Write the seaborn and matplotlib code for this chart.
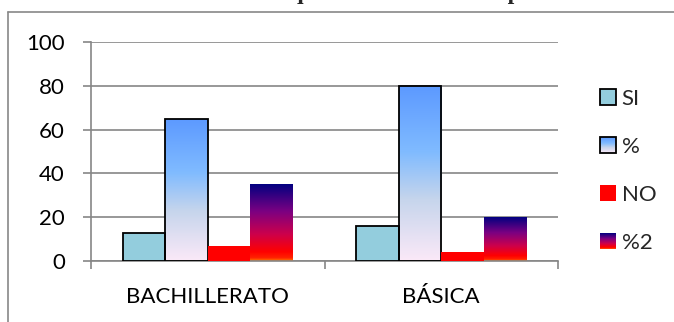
import numpy as np
import pandas as pd
import matplotlib
matplotlib.use("Agg")
import matplotlib.pyplot as plt
import seaborn as sns
from matplotlib.colors import LinearSegmentedColormap
from matplotlib.lines import Line2D
from matplotlib.patches import Rectangle
from matplotlib.image import BboxImage
from matplotlib.transforms import Bbox, TransformedBbox
from matplotlib.legend_handler import HandlerBase

categories = ["BACHILLERATO", "BÁSICA"]
series = ["SI", "%", "NO", "%2"]
si_values = [13, 16]
pct_values = [65, 80]
no_values = [7, 4]
pct2_values = [35, 20]
yticks = [0, 20, 40, 60, 80, 100]
title = "Gráfico No. 5: Son las clases que usted recibe se capacita en docencia"

df = pd.DataFrame({
    "categoria": categories * 4,
    "serie": [s for s in series for _ in categories],
    "valor": si_values + pct_values + no_values + pct2_values,
})

# office style gradients (bottom -> top)
cmap_pct = LinearSegmentedColormap.from_list("daybreak", [
    (0.0, "#fbe9f8"), (0.35, "#c6d5ec"), (0.62, "#80bbff"), (1.0, "#5c99ff")])
cmap_pct2 = LinearSegmentedColormap.from_list("nightfall", [
    (0.0, "#ff7a00"), (0.04, "#ff2200"), (0.12, "#ff0000"), (0.35, "#cc004c"),
    (0.65, "#7a0082"), (1.0, "#020080")])
grad = np.linspace(0, 1, 256).reshape(-1, 1)

palette = {"SI": "#93cddd", "%": "#80bbff", "NO": "#ff0000", "%2": "#800080"}
edges = {"SI": "black", "%": "black", "NO": "none", "%2": "none"}
grads = {"%": cmap_pct, "%2": cmap_pct2}

sns.set_style("white")
plt.rcParams["font.family"] = ["Lato", "DejaVu Sans"]

fig = plt.figure(figsize=(6.74, 3.22), dpi=100)
W, H = 674, 322
ax = fig.add_axes([91 / W, (H - 261) / H, (558 - 91) / W, (261 - 42) / H])

sns.barplot(data=df, x="categoria", y="valor", hue="serie", hue_order=series,
            palette=palette, width=0.727, saturation=1, ax=ax, legend=False)

for serie, cont in zip(series, ax.containers):
    for bar in cont:
        bar.set_edgecolor(edges[serie])
        bar.set_linewidth(1.3)
        bar.set_zorder(3)
        if serie in grads:
            x0, y0 = bar.get_x(), bar.get_y()
            w, h = bar.get_width(), bar.get_height()
            im = ax.imshow(grad, cmap=grads[serie], origin="lower", aspect="auto",
                           extent=[x0, x0 + w, y0, y0 + h], zorder=2.5)
            im.set_clip_path(bar)
            bar.set_facecolor("none")

ax.set_xlim(-0.5, 1.5)
ax.set_ylim(0, 100)
ax.set_yticks(yticks)
ax.set_xlabel("")
ax.set_ylabel("")
ax.grid(axis="y", color="#868686", linewidth=1.2, zorder=0)
ax.set_axisbelow(True)
for s in ["top", "right"]:
    ax.spines[s].set_visible(False)
for s in ["left", "bottom"]:
    ax.spines[s].set_color("#868686")
    ax.spines[s].set_linewidth(1.2)
ax.tick_params(axis="y", left=True, length=5.8, width=1.2, color="#868686",
               labelsize=16, pad=13, labelcolor="black")
ax.tick_params(axis="x", bottom=False, labelsize=16, pad=15, labelcolor="black")
ax.set_xticks([-0.5, 0.5, 1.5], minor=True)
ax.tick_params(axis="x", which="minor", bottom=True, length=5.8, width=1.2,
               color="#868686", direction="out")


class GradHandler(HandlerBase):
    def __init__(self, cmap=None, face=None, edge="none"):
        super().__init__()
        self.cmap, self.face, self.edge = cmap, face, edge

    def create_artists(self, legend, orig, xd, yd, w, h, fs, trans):
        s = min(w, h)
        x0, y0 = -xd + (w - s) / 2, -yd + (h - s) / 2
        arts = []
        if self.cmap is not None:
            bb = TransformedBbox(Bbox.from_bounds(x0, y0, s, s), trans)
            img = BboxImage(bb, cmap=self.cmap, origin="lower", interpolation="bilinear")
            img.set_data(grad)
            arts.append(img)
        r = Rectangle((x0, y0), s, s, facecolor=self.face if self.cmap is None else "none",
                      edgecolor=self.edge, linewidth=1.3, transform=trans)
        arts.append(r)
        return arts


handles = [Rectangle((0, 0), 1, 1) for _ in series]
hmap = {
    handles[0]: GradHandler(face=palette["SI"], edge="black"),
    handles[1]: GradHandler(cmap=cmap_pct, edge="black"),
    handles[2]: GradHandler(face=palette["NO"]),
    handles[3]: GradHandler(cmap=cmap_pct2),
}
fig.legend(handles, series, handler_map=hmap, loc="center left",
           bbox_to_anchor=(589 / W, 1 - 171 / H), frameon=False, fontsize=16,
           handlelength=0.72, handleheight=0.72, handletextpad=0.25, labelspacing=1.26,
           borderpad=0)

# chart frame (partially visible) and cut-off caption
fig.add_artist(Line2D([8 / W, 8 / W], [0, 1 - 12 / H], color="#888888", lw=1.2))
fig.add_artist(Line2D([8 / W, 1], [1 - 12 / H, 1 - 12 / H], color="#888888", lw=1.2))
fig.text(0.0, 1 + 1 / H, title, family="Liberation Serif", weight="bold",
         fontsize=17, va="baseline", ha="left")

fig.savefig("out.png", dpi=100)
